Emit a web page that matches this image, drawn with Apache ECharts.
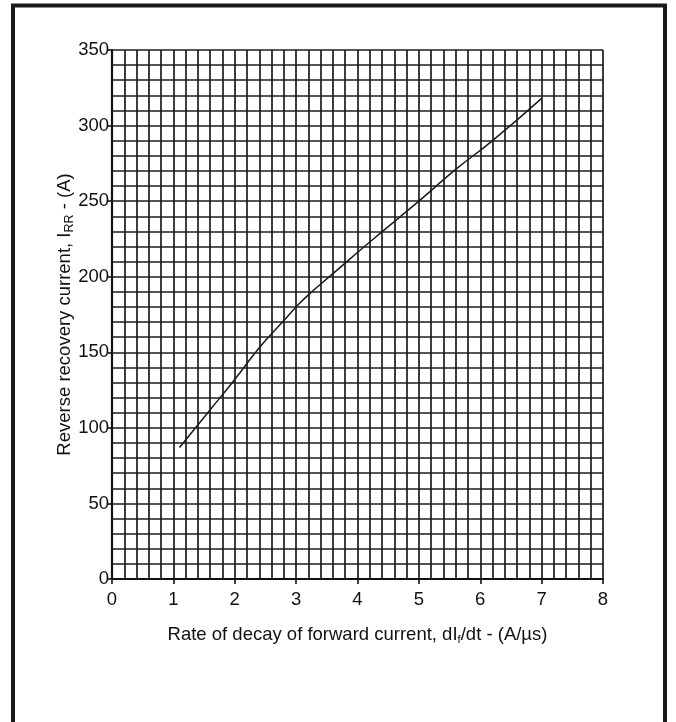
<!DOCTYPE html>
<html>
<head>
<meta charset="utf-8">
<script src="https://cdn.jsdelivr.net/npm/echarts@6/dist/echarts.min.js"></script>
<style>
html,body{margin:0;padding:0;background:#fff;}
#chart{width:676px;height:722px;}
</style>
</head>
<body>
<div id="chart"></div>
<script>
// Data
var rateValues = [1.1, 1.6, 2.0, 2.4, 2.8, 3.0, 3.2, 3.6, 4.2, 5.0, 5.6, 6.2, 7.0];
var currentValues = [87, 112, 132, 153, 171, 180, 188, 202, 223, 250, 271, 290, 318];
var xTickLabels = ['0','1','2','3','4','5','6','7','8'];
var yTickLabels = ['0','50','100','150','200','250','300','350'];

var seriesData = rateValues.map(function (x, i) { return [x, currentValues[i]]; });

var FONT = 'Liberation Sans, Arial, sans-serif';
var gridLine = { color: '#1c1c1c', width: 1.7 };

var chart = echarts.init(document.getElementById('chart'), null, { renderer: 'canvas' });
chart.setOption({
  animation: false,
  backgroundColor: '#fff',
  grid: { left: 112, right: 73, top: 50, bottom: 143, containLabel: false },
  xAxis: {
    type: 'value', min: 0, max: 8, interval: 1,
    axisLine: { show: true, onZero: false, lineStyle: { color: '#111', width: 2.2 } },
    axisTick: { show: true, length: 5, inside: false, lineStyle: { color: '#111', width: 1.6 } },
    axisLabel: {
      color: '#111', fontSize: 18.5, fontFamily: FONT, margin: 11,
      formatter: function (v) { return xTickLabels[Math.round(v)]; }
    },
    splitLine: { show: true, lineStyle: gridLine },
    minorTick: { show: false, splitNumber: 5 },
    minorSplitLine: { show: true, lineStyle: gridLine },
    name: '{t|Rate of decay of forward current, dI}{s|f}{t|/dt - (A/µs)}',
    nameLocation: 'middle', nameGap: 45,
    nameTextStyle: {
      rich: {
        t: { fontSize: 18.5, color: '#111', fontFamily: FONT },
        s: { fontSize: 11.5, color: '#111', fontFamily: FONT, padding: [10, 0, 0, 0] }
      }
    }
  },
  yAxis: {
    type: 'value', min: 0, max: 350, interval: 50,
    axisLine: { show: true, onZero: false, lineStyle: { color: '#111', width: 2.2 } },
    axisTick: { show: true, length: 4, inside: false, lineStyle: { color: '#111', width: 1.6 } },
    axisLabel: {
      color: '#111', fontSize: 18.5, fontFamily: FONT, margin: 3,
      formatter: function (v) { return yTickLabels[Math.round(v / 50)]; }
    },
    splitLine: { show: true, lineStyle: gridLine },
    minorTick: { show: false, splitNumber: 5 },
    minorSplitLine: { show: true, lineStyle: gridLine },
    name: '{t|Reverse recovery current, I}{s|RR}{t| - (A)}',
    nameLocation: 'middle', nameGap: 36, nameRotate: 90, nameMoveOverlap: false,
    nameTextStyle: {
      rich: {
        t: { fontSize: 18.5, color: '#111', fontFamily: FONT },
        s: { fontSize: 12.5, color: '#111', fontFamily: FONT, padding: [9, 0, 0, 0] }
      }
    }
  },
  series: [{
    type: 'line',
    data: seriesData,
    smooth: 0.5,
    showSymbol: false,
    lineStyle: { color: '#1a1a1a', width: 1.5 },
    z: 5
  }],
  graphic: [{
    type: 'polyline',
    shape: { points: [[13, 730], [13, 5.5], [665, 5.5], [665, 730]] },
    style: { stroke: '#1a1a1a', lineWidth: 4, fill: null },
    silent: true
  }]
});
</script>
</body>
</html>
